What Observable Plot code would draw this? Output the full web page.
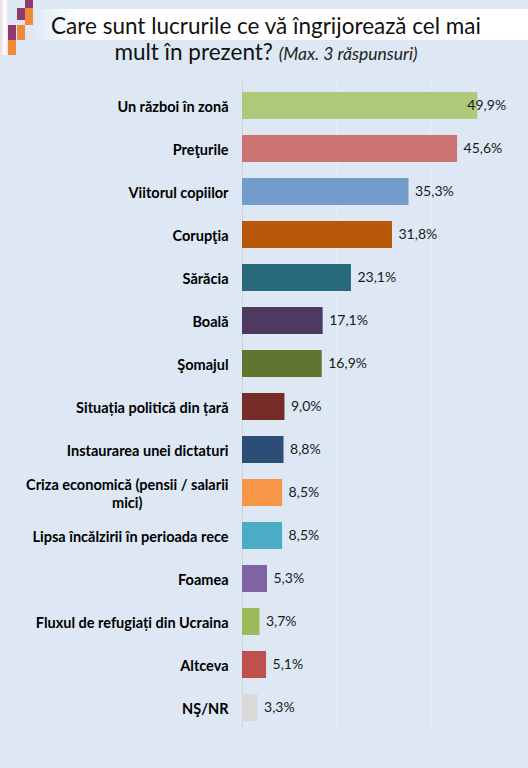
<!DOCTYPE html>
<html>
<head>
<meta charset="utf-8">
<script src="https://cdn.jsdelivr.net/npm/d3@7"></script>
<script src="https://cdn.jsdelivr.net/npm/@observablehq/plot@0.6"></script>
<style>
  html, body { margin: 0; padding: 0; }
  body { width: 528px; height: 768px; background: #dde8f4; font-family: Lato, "Open Sans", sans-serif; overflow: hidden; }
  #header { position: relative; height: 72px; }
  .band { position: absolute; top: 9px; left: 30px; right: 0; height: 31px;
    background: linear-gradient(to right, rgba(255,255,255,0) 0%, #ffffff 10%, #ffffff 100%); }
  .strip { position: absolute; top: 0; left: 0; width: 8px; height: 55px;
    background: linear-gradient(to right, #ead9de, #ffffff 60%, #e8e6ee); }
  .sq { position: absolute; width: 8px; }
  .p { background: #8d3b6e; }
  .o { background: #f0893a; }
  #title { position: absolute; top: 13px; left: 0; right: 0; padding-left: 4px; text-align: center;
    font-size: 22.5px; line-height: 26px; color: #111; }
  #title i { font-size: 17.5px; color: #222; }
  #chart svg { display: block; }
</style>
</head>
<body>
<div id="header">
  <div class="band"></div>
  <div class="strip"></div>
  <div class="sq p" style="left:25px;top:0;height:8px"></div>
  <div class="sq p" style="left:17px;top:8px;height:12px"></div>
  <div class="sq o" style="left:25px;top:8px;height:17px"></div>
  <div class="sq p" style="left:8px;top:25px;height:15px"></div>
  <div class="sq o" style="left:17px;top:25px;height:15px"></div>
  <div class="sq o" style="left:8px;top:40px;height:15px"></div>
  <div id="title">Care sunt lucrurile ce vă îngrijorează cel mai<br>mult în prezent? <i>(Max. 3 răspunsuri)</i></div>
</div>
<div id="chart"></div>
<script>
const categories = [
  "Un război în zonă",
  "Preţurile",
  "Viitorul copiilor",
  "Corupţia",
  "Sărăcia",
  "Boală",
  "Şomajul",
  "Situația politică din țară",
  "Instaurarea unei dictaturi",
  "Criza economică (pensii / salarii\nmici)",
  "Lipsa încălzirii în perioada rece",
  "Foamea",
  "Fluxul de refugiați din Ucraina",
  "Altceva",
  "NŞ/NR"
];
const values = [49.9, 45.6, 35.3, 31.8, 23.1, 17.1, 16.9, 9.0, 8.8, 8.5, 8.5, 5.3, 3.7, 5.1, 3.3];
const colors = [
  "#afc97b", "#cd7371", "#739bcb", "#b75708", "#286a7b", "#4e3a61", "#607530",
  "#772c2a", "#2c4d75", "#f79646", "#4bacc6", "#8064a2", "#9bbb59", "#c0504d", "#d9d9d9"
];
const gridTicks = [20, 40];

const data = categories.map((c, i) => ({label: c, value: values[i]}));
const fmt = v => v.toFixed(1).replace(".", ",") + "%";

const chart = Plot.plot({
  width: 528,
  height: 668,
  marginLeft: 242,
  marginRight: 3,
  marginTop: 0,
  marginBottom: 0,
  style: {background: "transparent", fontFamily: "Lato, 'Open Sans', sans-serif", overflow: "visible"},
  x: {domain: [0, 60], axis: null},
  y: {domain: categories, padding: 0.38, axis: null},
  color: {domain: categories, range: colors},
  marks: [
    Plot.ruleX(gridTicks, {stroke: "#e6eef8", strokeWidth: 1, insetTop: 6, insetBottom: 10}),
    Plot.ruleX([0], {stroke: "#cbd3dc", strokeWidth: 1, insetTop: 6, insetBottom: 10}),
    Plot.barX(data, {x: "value", y: "label", fill: "label"}),
    Plot.text(data, {
      x: d => Math.min(d.value, 46.4), y: "label", text: d => fmt(d.value),
      textAnchor: "start", dx: 6, fontSize: 14, fill: "#1a1a1a"
    }),
    Plot.text(data, {
      y: "label", text: "label", frameAnchor: "left", dx: -14, textAnchor: "end",
      fontSize: 14.5, fontWeight: "bold", fill: "#000", lineHeight: 1.3
    })
  ]
});
document.getElementById("chart").appendChild(chart);

// Excel centres the wrapped category label: centre the second line under the first
chart.querySelectorAll("text").forEach(t => {
  const spans = t.querySelectorAll("tspan");
  if (spans.length > 1) {
    const w = spans[0].getComputedTextLength();
    t.setAttribute("text-anchor", "middle");
    t.setAttribute("transform", (t.getAttribute("transform") || "") + ` translate(${-w / 2},0)`);
  }
});
</script>
</body>
</html>
